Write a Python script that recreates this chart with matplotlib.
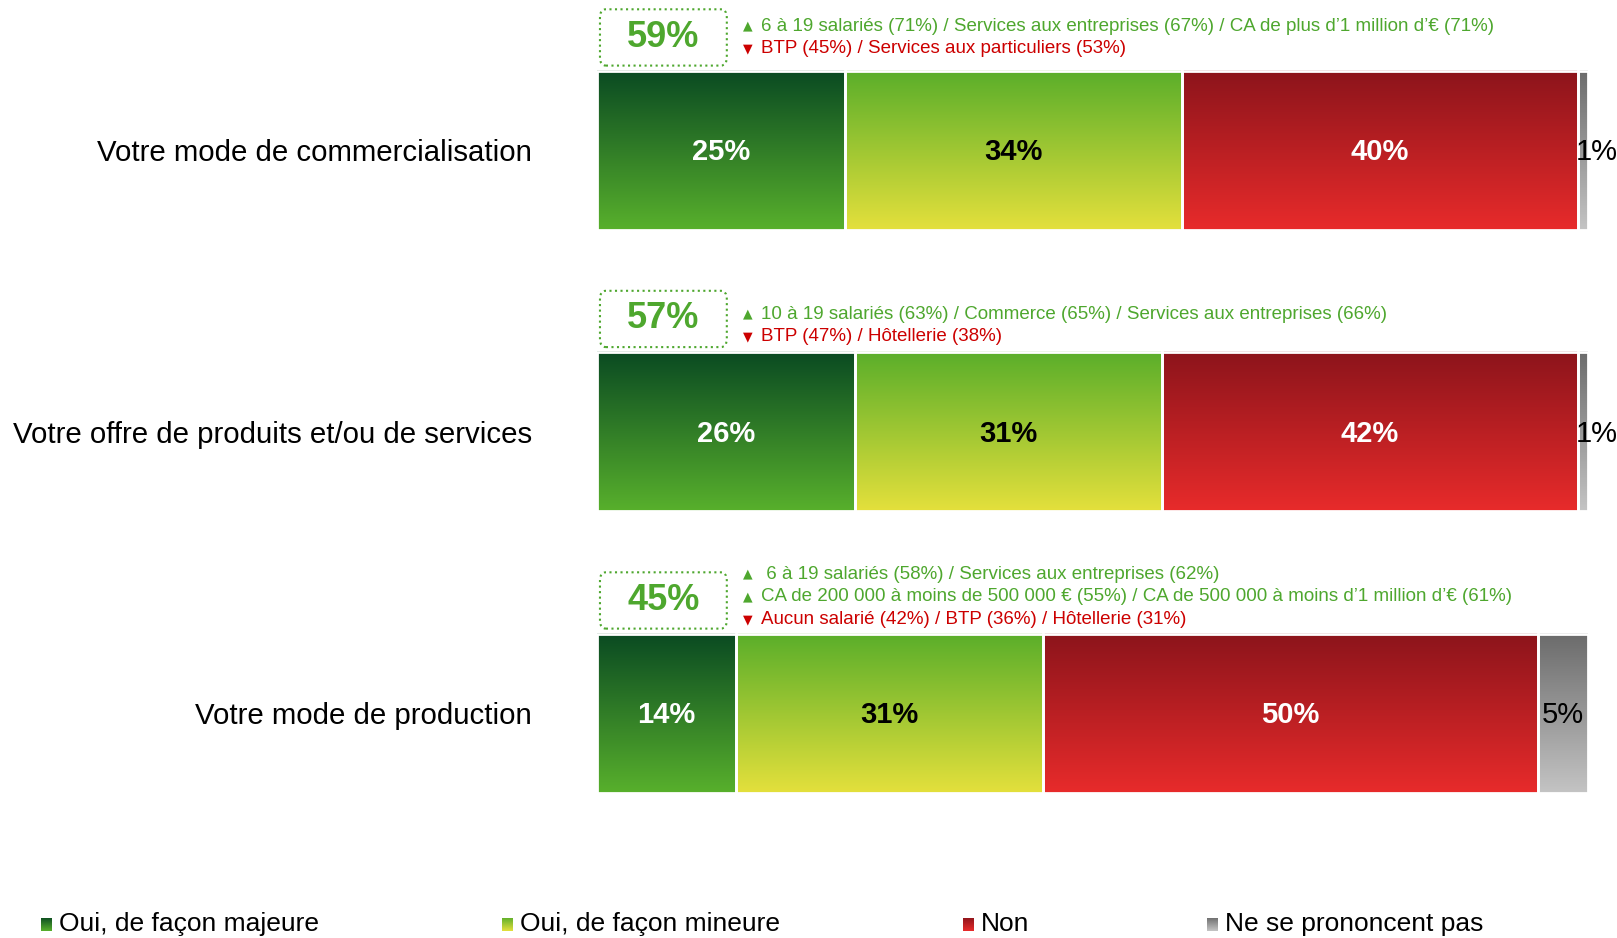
import numpy as np
import matplotlib.pyplot as plt
from matplotlib.colors import LinearSegmentedColormap
from matplotlib.patches import FancyBboxPatch

plt.rcParams['font.family'] = ['Liberation Sans', 'DejaVu Sans']

# donnees
categories = ['Votre mode de commercialisation',
              'Votre offre de produits et/ou de services',
              'Votre mode de production']
series = ['Oui, de façon majeure', 'Oui, de façon mineure', 'Non', 'Ne se prononcent pas']
majeure = [25, 26, 14]
mineure = [34, 31, 31]
non = [40, 42, 50]
nsp = [1, 1, 5]
total_oui = ['59%', '57%', '45%']
hausse = [['6 à 19 salariés (71%) / Services aux entreprises (67%) / CA de plus d\u20191 million d\u2019€ (71%)'],
          ['10 à 19 salariés (63%) / Commerce (65%) / Services aux entreprises (66%)'],
          [' 6 à 19 salariés (58%) / Services aux entreprises (62%)',
           'CA de 200 000 à moins de 500 000 € (55%) / CA de 500 000 à moins d\u20191 million d\u2019€ (61%)']]
baisse = [['BTP (45%) / Services aux particuliers (53%)'],
          ['BTP (47%) / Hôtellerie (38%)'],
          ['Aucun salarié (42%) / BTP (36%) / Hôtellerie (31%)']]

# couleurs (haut -> bas du degrade)
gradients = [('#0a4a22', '#58b02c'),
             ('#5aae2a', '#e4e03c'),
             ('#8c141b', '#e82b2b'),
             ('#6b6b6b', '#c4c4c4')]
label_colors = ['white', 'black', 'white', 'black']
label_weights = ['bold', 'bold', 'bold', 'normal']
green = '#4ea72e'
red = '#cc0000'

fig = plt.figure(figsize=(16.17, 9.38), dpi=100)
ax = fig.add_axes([597 / 1617, 0, 991 / 1617, 1])

ypos = np.array([2, 1, 0])
h = 0.565
values = [majeure, mineure, non, nsp]
left = np.zeros(3)
for k, vals in enumerate(values):
    bars = ax.barh(ypos, vals, left=left, height=h, facecolor='none',
                   edgecolor='white', linewidth=2, zorder=3)
    cmap = LinearSegmentedColormap.from_list('g%d' % k, [gradients[k][1], gradients[k][0]])
    grad = np.linspace(0, 1, 256).reshape(-1, 1)
    for b, v, l in zip(bars, vals, left):
        x0, y0 = b.get_x(), b.get_y()
        ax.imshow(grad, cmap=cmap, aspect='auto', origin='lower',
                  extent=[x0, x0 + b.get_width(), y0, y0 + b.get_height()], zorder=2)
        yc = y0 + b.get_height() / 2 - 0.008
        if v < 3:
            ax.text(l - 0.2, yc, '%d%%' % v, ha='left', va='center', fontsize=21,
                    color=label_colors[k], fontweight=label_weights[k], zorder=4, clip_on=False)
        else:
            ax.text(l + v / 2, yc, '%d%%' % v, ha='center', va='center', fontsize=21,
                    color=label_colors[k], fontweight=label_weights[k], zorder=4)
    left = left + np.array(vals)

# encadres + sous-populations
for i, y in enumerate(ypos):
    box = FancyBboxPatch((0.3, y + 0.3), 12.8, 0.2,
                         boxstyle='round,pad=0,rounding_size=0.6',
                         facecolor='white', edgecolor=green, linestyle=':',
                         linewidth=1.5, mutation_aspect=0.05, clip_on=False)
    ax.add_patch(box)
    ax.text(6.7, y + 0.4, total_oui[i], ha='center', va='center', fontsize=26,
            fontweight='bold', color=green)
    lines = [('▲', t, green) for t in hausse[i]] + [('▼', t, red) for t in baisse[i]]
    n = len(lines)
    top = y + (0.44 if n == 2 else 0.494)
    if i == 1:
        top = y + 0.417
    for j, (sym, txt, c) in enumerate(lines):
        yy = top - j * 0.081
        ax.text(14.7, yy, sym, ha='left', va='center', fontsize=9, color=c,
                family='DejaVu Sans')
        ax.text(16.5, yy, txt, ha='left', va='center', fontsize=13.5, color=c)

ax.set_xlim(0, 100)
ax.set_ylim(-0.799, 2.533)
ax.set_yticks(ypos)
ax.set_yticklabels(categories, fontsize=21.2)
ax.tick_params(axis='y', length=0, pad=47)
ax.set_xticks([])
for s in ax.spines.values():
    s.set_visible(False)

# legende
leg_x = [41, 502, 963, 1207]
for k, name in enumerate(series):
    lax = fig.add_axes([leg_x[k] / 1617, (938 - 931) / 938, 11 / 1617, 13 / 938])
    cmap = LinearSegmentedColormap.from_list('l%d' % k, [gradients[k][1], gradients[k][0]])
    lax.imshow(np.linspace(0, 1, 64).reshape(-1, 1), cmap=cmap, aspect='auto', origin='lower')
    lax.axis('off')
    fig.text((leg_x[k] + 18) / 1617, (938 - 924) / 938, name, ha='left', va='center',
             fontsize=19, color='black')

fig.savefig('out.png', dpi=100)
